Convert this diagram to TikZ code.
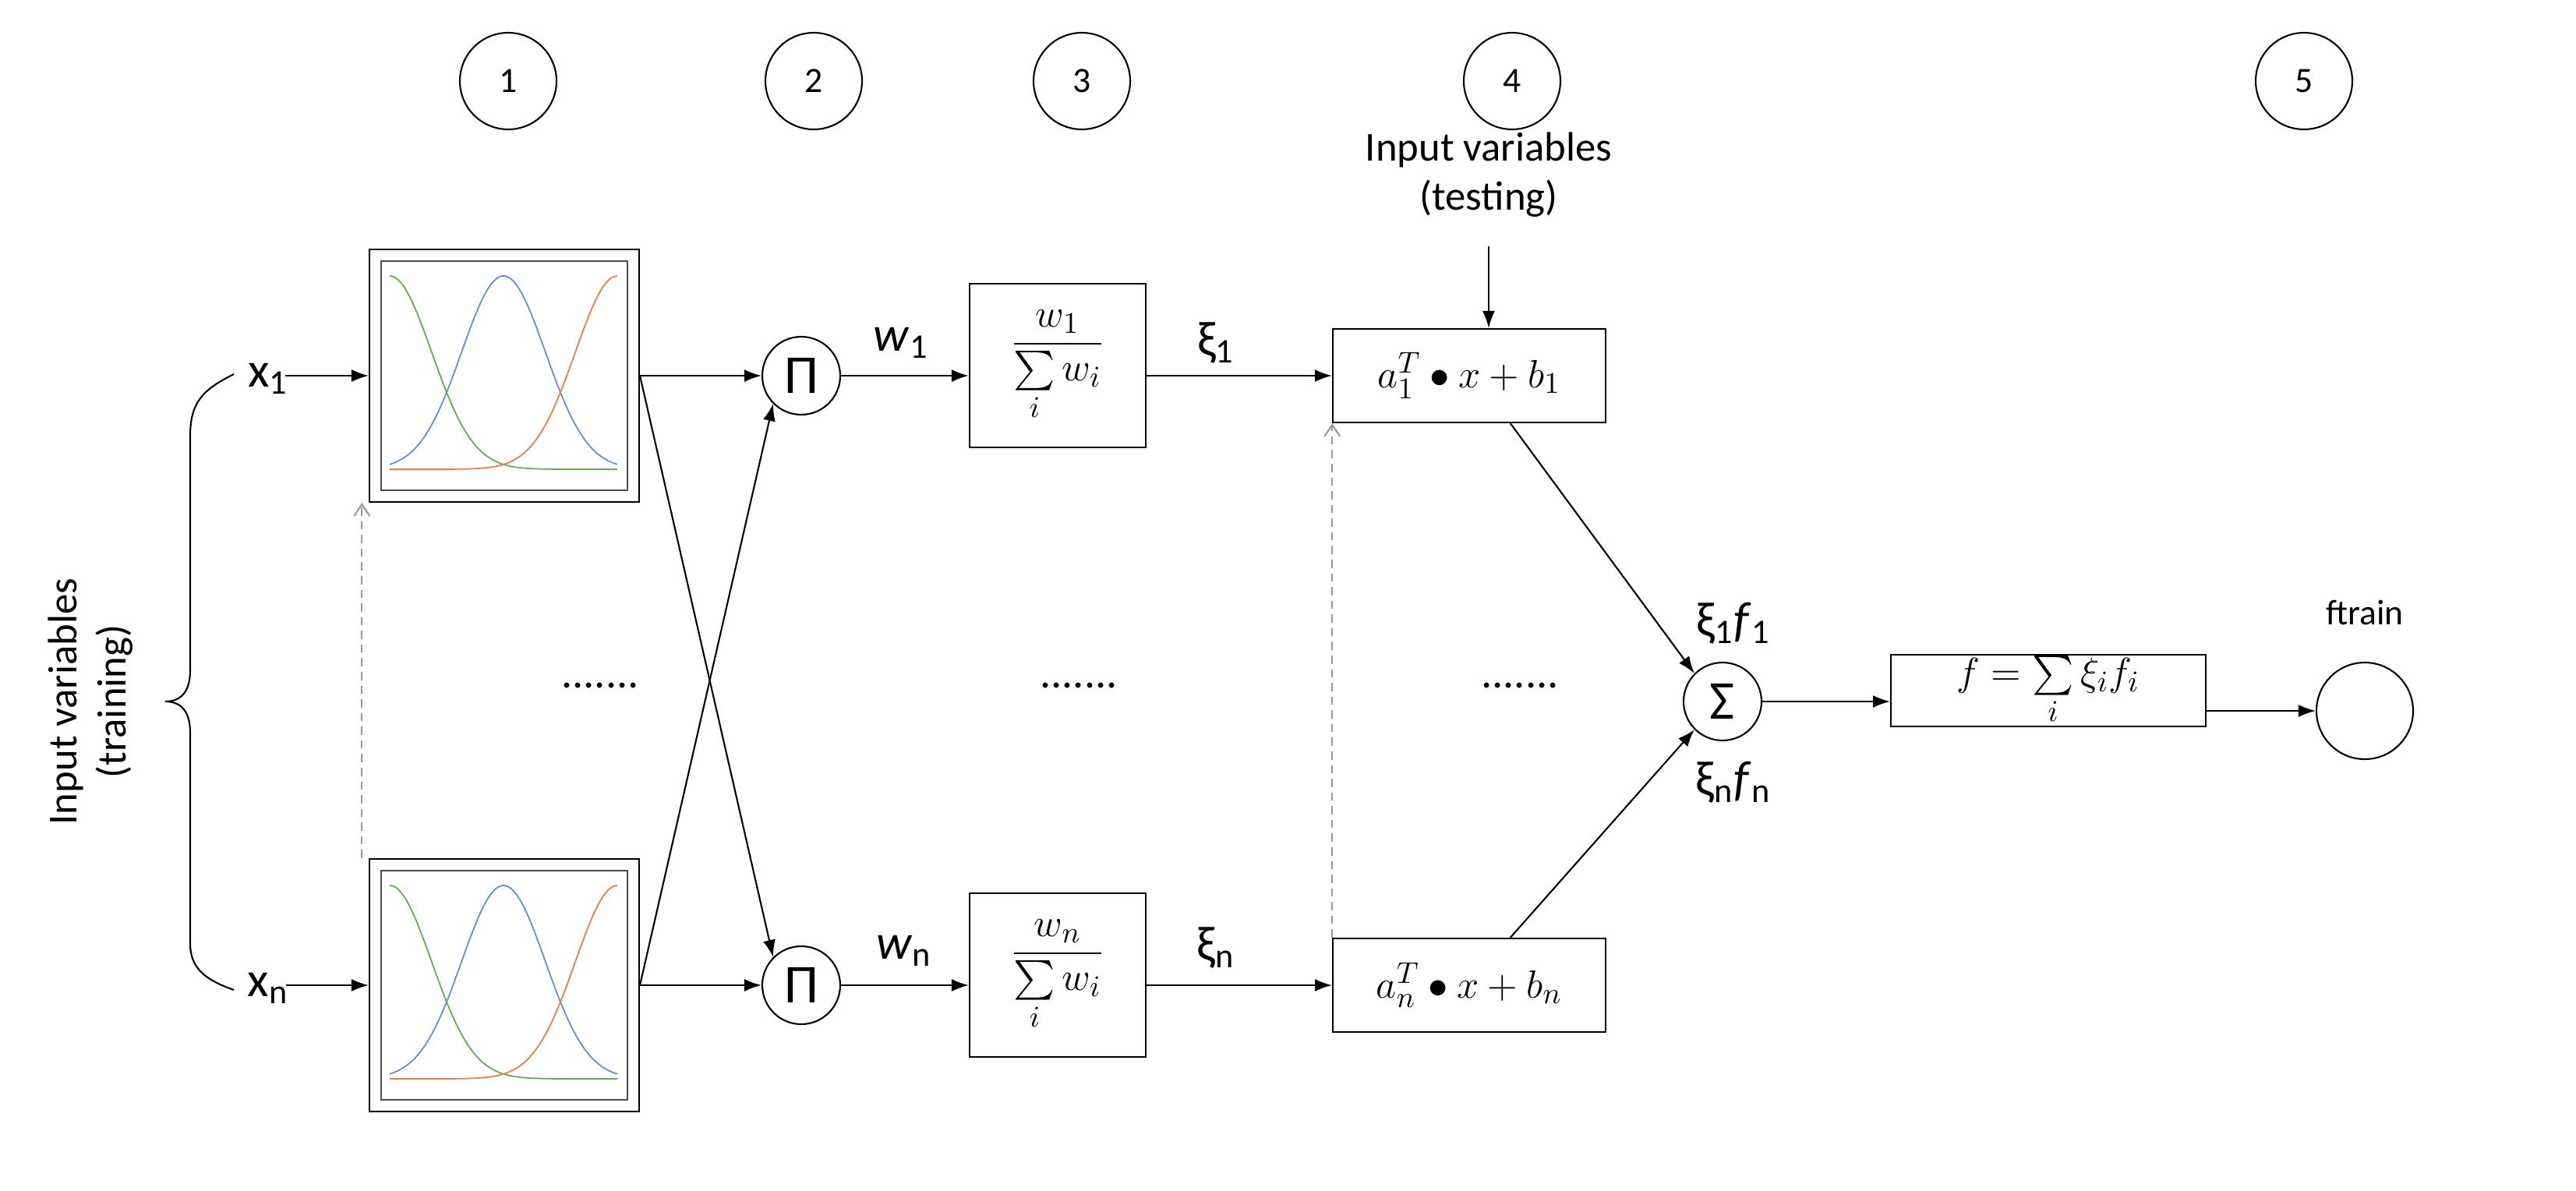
\documentclass[tikz,border=0pt]{standalone}
\usepackage{amsmath}
\usepackage{fontspec}
\setmainfont{Carlito}
\usetikzlibrary{arrows.meta,calc}
\begin{document}
\begin{tikzpicture}[x=0.02cm,y=-0.02cm,
  every node/.style={font=\fontsize{13}{15}\selectfont},
  ln/.style={line width=0.6pt},
  arr/.style={ln,-{Latex[length=0.22cm,width=0.16cm]}},
  num/.style={draw,circle,minimum size=1.24cm,inner sep=0pt,ln},
  op/.style={draw,circle,minimum size=1.0cm,inner sep=0pt,ln,font=\fontsize{20}{22}\selectfont},
  box/.style={draw,rectangle,ln,inner sep=0pt,font=\fontsize{15}{17}\selectfont},
  lab/.style={font=\fontsize{18}{20}\selectfont},
  dots/.style={font=\fontsize{16}{18}\selectfont}]
\useasboundingbox (0,0) rectangle (1652.5,764);
% numbered circles
\node[num] (c1) at (326,52) {1};
\node[num] (c2) at (522,52) {2};
\node[num] (c3) at (694,52) {3};
\node[num] (c4) at (970,52) {4};
\node[num] (c5) at (1478,52) {5};
% membership boxes
\foreach \n/\cy in {mt/241, mb/632}{
  \node[box,minimum width=3.46cm,minimum height=3.24cm] (\n) at (323.5,\cy) {};
  \draw[line width=0.5pt,draw=black!70] ($(\n.north west)+(8,8)$) rectangle ($(\n.south east)+(-8,-8)$);
}
\foreach \cy in {241,632}{
  \begin{scope}[shift={(0,\cy-241)}]
  \draw[line width=0.5pt,color={rgb,255:red,100;green,170;blue,80}] plot[domain=250:396,samples=80] (\x,{301-124*exp(-((\x-250)/38)^2)});
  \draw[line width=0.5pt,color={rgb,255:red,100;green,140;blue,215}] plot[domain=250:396,samples=80] (\x,{301-124*exp(-((\x-323)/38)^2)});
  \draw[line width=0.5pt,color={rgb,255:red,245;green,120;blue,70}] plot[domain=250:396,samples=80] (\x,{301-124*exp(-((\x-396)/38)^2)});
  \end{scope}
}
% inputs
\node[lab] (x1) at (172,243) {x\textsubscript{1}};
\node[lab] (xn) at (172,634) {x\textsubscript{n}};
\draw[arr] (x1.east) ++(-8,-2) coordinate (x1e) -- (mt.west |- x1e);
\draw[arr] (xn.east) ++(-8,-2) coordinate (xne) -- (mb.west |- xne);
\draw[ln] (150,240) .. controls (130,250) and (122,258) .. (122,280) -- (122,430)
  .. controls (122,445) and (115,450) .. (106,450)
  .. controls (115,450) and (122,455) .. (122,470) -- (122,605)
  .. controls (122,620) and (130,628) .. (150,635);
\node[rotate=90,align=center,font=\fontsize{15}{18}\selectfont] (iv) at (58,450) {Input variables\\(training)};
% dotted feedback
\draw[ln,densely dashed,draw=black!40,-{Straight Barb[length=0.15cm,width=0.2cm]}] ([xshift=-52]mb.north) -- ([xshift=-52]mt.south);
% pi nodes
\node[op] (p1) at (514,241) {Π};
\node[op] (pn) at (514,632) {Π};
\draw[arr] (mt.east) -- (p1.west);
\draw[arr] (mb.east) -- (pn.west);
\draw[arr] (mt.east) -- (pn.north west);
\draw[arr] (mb.east) -- (p1.south west);
\node[dots] (d1) at (385,440) {.......};
% normalization
\node[box,minimum width=2.26cm,minimum height=2.1cm] (n1) at (678.5,234.5) {$\dfrac{w_1}{\sum\limits_i w_i}$};
\node[box,minimum width=2.26cm,minimum height=2.1cm] (nn) at (678.5,625.5) {$\dfrac{w_n}{\sum\limits_i w_i}$};
\draw[arr] (p1.east) -- (n1.west |- p1);
\draw[arr] (pn.east) -- (nn.west |- pn);
\node[lab] (w1) at (578,220) {\textit{w}\textsubscript{1}};
\node[lab] (wn) at (580,610) {\textit{w}\textsubscript{n}};
\node[dots] (d2) at (692,440) {.......};
% linear boxes
\node[box,minimum width=3.5cm,minimum height=1.2cm] (l1) at (942.5,241) {$a_1^T\bullet x+b_1$};
\node[box,minimum width=3.5cm,minimum height=1.2cm] (ln) at (942.5,632) {$a_n^T\bullet x+b_n$};
\draw[arr] (n1.east |- p1) -- (l1.west);
\draw[arr] (nn.east |- pn) -- (ln.west);
\node[lab] (xi1) at (780,220) {ξ\textsubscript{1}};
\node[lab] (xin) at (780,608) {ξ\textsubscript{n}};
\node[align=center,font=\fontsize{15}{18}\selectfont] (it) at (955,112) {Input variables\\(testing)};
\coordinate (itb) at (955,158);
\draw[arr] (itb) -- (itb |- l1.north);
\draw[ln,densely dashed,draw=black!40,-{Straight Barb[length=0.15cm,width=0.2cm]}] ([xshift=-50]ln.north) -- ([xshift=-50]l1.south);
\node[dots] (d3) at (975,440) {.......};
% sum
\node[op] (s) at (1105,450) {Σ};
\draw[arr] ([xshift=15]l1.south) -- (s.north west);
\draw[arr] ([xshift=15]ln.north) -- (s.south west);
\node[lab] (sf1) at (1112,400) {ξ\textsubscript{1}\textit{f}\textsubscript{1}};
\node[lab] (sfn) at (1112,502) {ξ\textsubscript{n}\textit{f}\textsubscript{n}};
\node[box,minimum width=4.04cm,minimum height=0.92cm] (f) at (1314,443) {$f=\sum\limits_i \xi_i f_i$};
\draw[arr] (s.east) -- (f.west |- s);
\node[num] (o) at (1517,456) {};
\draw[arr] (f.east |- o) -- (o.west);
\node (ft) at (1517,393) {ftrain};
\end{tikzpicture}
\end{document}
